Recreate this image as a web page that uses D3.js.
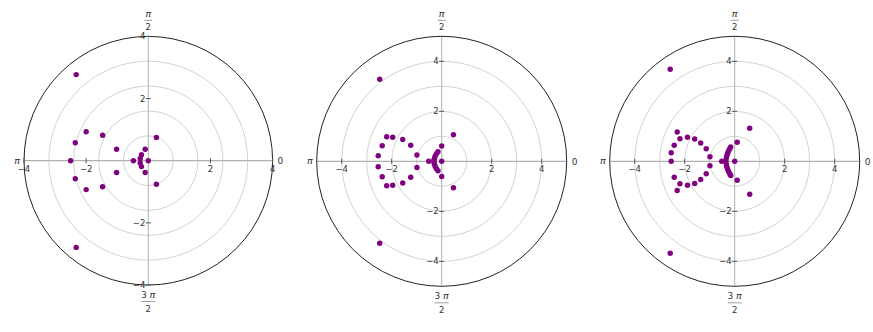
<!DOCTYPE html>
<html>
<head>
<meta charset="utf-8">
<script src="https://cdn.jsdelivr.net/npm/d3@7"></script>
<style>
  body { margin: 0; background: #fff; }
  text { font-family: "DejaVu Sans", sans-serif; }
</style>
</head>
<body>
<svg id="chart" width="873" height="332"></svg>
<script>
// racines (partie réelle, partie imaginaire) lues sur chaque graphe
const rootsA = [
  [-2.32, 2.77], [-2.32, -2.79], [-2.0, 0.93], [-2.0, -0.93],
  [-2.35, 0.58], [-2.35, -0.58], [-2.5, 0], [-1.47, 0.82], [-1.47, -0.84],
  [-1.02, 0.37], [-1.02, -0.38], [0.26, 0.75], [0.26, -0.76],
  [-0.1, 0.37], [-0.1, -0.38], [-0.48, 0], [0, 0],
  [-0.22, 0.19], [-0.26, 0.07], [-0.26, -0.07], [-0.22, -0.19]
];
const rootsB = [
  [-2.48, 3.28], [-2.48, -3.28], [-2.2, 0.98], [-2.2, -0.98],
  [-1.96, 0.96], [-1.96, -0.96], [-2.38, 0.62], [-2.38, -0.62],
  [-2.54, 0.22], [-2.54, -0.22], [-1.56, 0.87], [-1.56, -0.87],
  [-1.24, 0.64], [-1.24, -0.64], [-0.99, 0.25], [-0.99, -0.25],
  [0.47, 1.06], [0.47, -1.06], [0, 0.61], [0, -0.61], [-0.52, 0], [0, 0],
  [-0.15, 0.38], [-0.15, -0.38], [-0.21, 0.3], [-0.21, -0.3],
  [-0.26, 0.21], [-0.26, -0.21], [-0.29, 0.12], [-0.29, -0.12],
  [-0.31, 0.04], [-0.31, -0.04]
];
const rootsC = [
  [-2.58, 3.68], [-2.58, -3.68], [-2.3, 1.17], [-2.3, -1.17],
  [-2.19, 0.9], [-2.19, -0.9], [-1.89, 0.96], [-1.89, -0.96],
  [-1.6, 0.89], [-1.6, -0.89], [-1.36, 0.73], [-1.36, -0.73],
  [-1.14, 0.5], [-1.14, -0.5], [-0.99, 0.18], [-0.99, -0.18],
  [-2.42, 0.64], [-2.42, -0.64], [-2.54, 0.34], [-2.54, 0],
  [0.6, 1.32], [0.6, -1.32], [0.1, 0.76], [0.1, -0.76], [-0.52, 0], [0, 0],
  [-0.16, 0.57], [-0.16, -0.57], [-0.2, 0.5], [-0.2, -0.5],
  [-0.24, 0.42], [-0.24, -0.42], [-0.28, 0.33], [-0.28, -0.33],
  [-0.31, 0.24], [-0.31, -0.24], [-0.33, 0.15], [-0.33, -0.15],
  [-0.35, 0.05], [-0.35, -0.05]
];

const maxA = 4, maxB = 5, maxC = 5;
const gridA = [0.8, 1.6, 2.4, 3.2];
const gridB = [1, 2, 3, 4];
const ticksA = [-4, -2, 2, 4];
const ticksB = [-4, -2, 2, 4];

const svg = d3.select("#chart");

function drawPolar(cx, cy, rad, rmax, grid, ticks, roots) {
  var x = d3.scaleLinear().domain([-rmax, rmax]).range([cx - rad, cx + rad]);
  var y = d3.scaleLinear().domain([-rmax, rmax]).range([cy + rad, cy - rad]);
  var r = d3.scaleLinear().domain([0, rmax]).range([0, rad]);
  var g = svg.append("g");

  // cercles de la grille
  g.selectAll(".grid").data(grid).enter().append("circle")
    .attr("cx", cx).attr("cy", cy)
    .attr("r", function(d){ return r(d) })
    .attr("fill", "none").attr("stroke", "#d3d3d3").attr("stroke-width", 1);

  // axes
  g.append("line").attr("x1", x(-rmax)).attr("x2", x(rmax)).attr("y1", cy).attr("y2", cy)
    .attr("stroke", "#b0b0b0").attr("stroke-width", 1.2);
  g.append("line").attr("x1", cx).attr("x2", cx).attr("y1", y(rmax)).attr("y2", y(-rmax))
    .attr("stroke", "#b0b0b0").attr("stroke-width", 1);

  g.append("circle").attr("cx", cx).attr("cy", cy).attr("r", rad)
    .attr("fill", "none").attr("stroke", "#222").attr("stroke-width", 1);

  // graduations
  g.selectAll(".tx").data(ticks).enter().append("line")
    .attr("x1", function(d){ return x(d) }).attr("x2", function(d){ return x(d) })
    .attr("y1", cy - 2.5).attr("y2", cy + 2.5).attr("stroke", "#555");
  g.selectAll(".ty").data(ticks).enter().append("line")
    .attr("y1", function(d){ return y(d) }).attr("y2", function(d){ return y(d) })
    .attr("x1", cx - 2.5).attr("x2", cx + 2.5).attr("stroke", "#555");

  g.selectAll(".lx").data(ticks).enter().append("text")
    .attr("x", function(d){ return x(d) }).attr("y", cy + 11)
    .attr("text-anchor", "middle").attr("font-size", 8.5).attr("fill", "#333")
    .text(function(d){ return d < 0 ? "\u2212" + (-d) : d });
  g.selectAll(".ly").data(ticks).enter().append("text")
    .attr("x", cx - 3).attr("y", function(d){ return y(d) + 3 })
    .attr("text-anchor", "end").attr("font-size", 8.5).attr("fill", "#333")
    .text(function(d){ return d < 0 ? "\u2212" + (-d) : d });

  // étiquettes d'angle
  g.append("text").attr("x", cx - rad - 4).attr("y", cy + 3)
    .attr("text-anchor", "end").attr("font-size", 9.5).attr("font-style", "italic").attr("fill", "#333").text("\u03c0");
  g.append("text").attr("x", cx + rad + 5).attr("y", cy + 3.5)
    .attr("text-anchor", "start").attr("font-size", 9).attr("fill", "#333").text("0");

  g.append("text").attr("x", cx).attr("y", cy - rad - 19)
    .attr("text-anchor", "middle").attr("font-size", 9.5).attr("font-style", "italic").attr("fill", "#333").text("\u03c0");
  g.append("line").attr("x1", cx - 4).attr("x2", cx + 4).attr("y1", cy - rad - 16).attr("y2", cy - rad - 16)
    .attr("stroke", "#888").attr("stroke-width", 0.8);
  g.append("text").attr("x", cx).attr("y", cy - rad - 6)
    .attr("text-anchor", "middle").attr("font-size", 8.5).attr("fill", "#333").text("2");

  var t3 = g.append("text").attr("x", cx).attr("y", cy + rad + 13)
    .attr("text-anchor", "middle").attr("font-size", 8.5).attr("fill", "#333");
  t3.append("tspan").text("3 ");
  t3.append("tspan").attr("font-style", "italic").attr("font-size", 9.5).text("\u03c0");
  g.append("line").attr("x1", cx - 7).attr("x2", cx + 7).attr("y1", cy + rad + 16.5).attr("y2", cy + rad + 16.5)
    .attr("stroke", "#888").attr("stroke-width", 0.8);
  g.append("text").attr("x", cx).attr("y", cy + rad + 27)
    .attr("text-anchor", "middle").attr("font-size", 8.5).attr("fill", "#333").text("2");

  // points
  g.selectAll(".pt").data(roots).enter().append("circle")
    .attr("cx", function(d){ return x(d[0]) })
    .attr("cy", function(d){ return y(d[1]) })
    .attr("r", 2.7)
    .attr("fill", "#800080");
}

drawPolar(148.3, 160.7, 124.3, maxA, gridA, ticksA, rootsA);
drawPolar(441.7, 161.3, 125, maxB, gridB, ticksB, rootsB);
drawPolar(734.7, 161.3, 125, maxC, gridB, ticksB, rootsC);
</script>
</body>
</html>
